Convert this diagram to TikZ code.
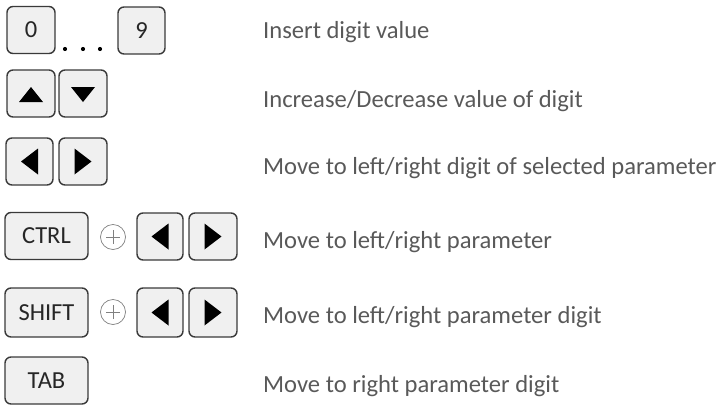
\documentclass[tikz,border=0pt]{standalone}
\usepackage{fontspec}
\setmainfont{Carlito}
\usetikzlibrary{calc}
\definecolor{keyfill}{HTML}{F0F0F0}
\definecolor{keyline}{HTML}{3A3A3A}
\definecolor{desc}{HTML}{595959}
\definecolor{plusc}{HTML}{808080}
\begin{document}
\begin{tikzpicture}[x=1pt,y=-1pt,
  key/.style={draw=keyline,fill=keyfill,line width=1.4pt,rounded corners=6pt,
    minimum width=48pt,minimum height=47pt,inner sep=0pt,
    font=\fontsize{24.5}{28}\selectfont,text=black!85},
  widekey/.style={key,minimum width=83pt},
  desctext/.style={anchor=base west,inner sep=0pt,text=desc,font=\fontsize{24.6}{28}\selectfont},
  plussign/.style={circle,draw=plusc,line width=0.7pt,minimum size=25pt,inner sep=0pt},
  tri/.style={fill=black}
]
\useasboundingbox (0,0) rectangle (725,407);
% Row 1
\node[key] (k0) at (31,30) {0};
\node[key,minimum width=47pt] (k9) at (141.5,30.5) {9};
\foreach \x/\n in {65/d1,83/d2,100/d3} \fill (\x,49) circle (2.1pt);
\node[desctext] (t1) at (263,38) {Insert digit value};
% Row 2
\node[key] (kup) at (31,93.5) {};
\node[key] (kdn) at (83,93.5) {};
\fill[tri] ($(kup.center)+(-12,8.5)$) -- ($(kup.center)+(12,8.5)$) -- ($(kup.center)+(0,-6.5)$) -- cycle;
\fill[tri] ($(kdn.center)+(-12,-6.5)$) -- ($(kdn.center)+(12,-6.5)$) -- ($(kdn.center)+(0,8.5)$) -- cycle;
\node[desctext] (t2) at (263,107) {Increase/Decrease value of digit};
% Row 3
\node[key,minimum width=47pt] (kl3) at (29.5,161.5) {};
\node[key] (kr3) at (83,161.5) {};
\node[desctext] (t3) at (263,174) {Move to left/right digit of selected parameter};
% Row 4
\node[widekey] (kctrl) at (46.5,236) {CTRL};
\node[plussign] (p4) at (113,237) {};
\node[key,minimum width=46pt] (kl4) at (160,236.5) {};
\node[key] (kr4) at (213,236.5) {};
\node[desctext] (t4) at (263,248) {Move to left/right parameter};
% Row 5
\node[widekey,minimum height=49pt] (kshift) at (46.5,312.5) {SHIFT};
\node[plussign] (p5) at (113,312) {};
\node[key,minimum width=46pt,minimum height=49pt] (kl5) at (160,312.5) {};
\node[key,minimum height=49pt] (kr5) at (213,312.5) {};
\node[desctext] (t5) at (263,323) {Move to left/right parameter digit};
% Row 6
\node[widekey] (ktab) at (46.5,380.5) {TAB};
\node[desctext] (t6) at (263,392) {Move to right parameter digit};
% left/right triangles
\foreach \k in {kl3,kl4,kl5}
  \fill[tri] ($(\k.center)+(8.5,-13)$) -- ($(\k.center)+(8.5,13)$) -- ($(\k.center)+(-8.5,0)$) -- cycle;
\foreach \k in {kr3,kr4,kr5}
  \fill[tri] ($(\k.center)+(-8.5,-13)$) -- ($(\k.center)+(-8.5,13)$) -- ($(\k.center)+(8.5,0)$) -- cycle;
% plus signs
\foreach \p in {p4,p5} {
  \draw[plusc,line width=0.7pt] ($(\p.center)+(-7,0)$) -- ($(\p.center)+(7,0)$);
  \draw[plusc,line width=0.7pt] ($(\p.center)+(0,-7)$) -- ($(\p.center)+(0,7)$);
}
\end{tikzpicture}
\end{document}
